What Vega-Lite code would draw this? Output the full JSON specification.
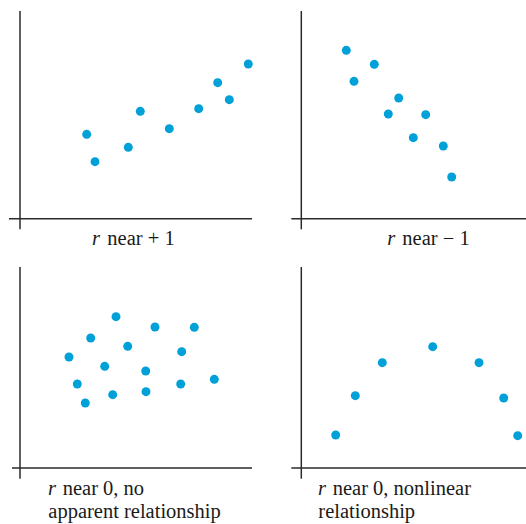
{
  "$schema": "https://vega.github.io/schema/vega-lite/v6.json",
  "padding": 0,
  "background": "white",
  "config": {"view": {"stroke": null}, "text": {"font": "Liberation Serif", "fontSize": 20.5, "color": "#1a1a1a", "align": "left", "baseline": "alphabetic"}},
  "datasets": {
    "axes": [
      {"panel": 1, "x": 0, "y": -0.53, "x2": 0, "y2": 10.385},
      {"panel": 1, "x": -0.55, "y": 0, "x2": 11.6, "y2": 0},
      {"panel": 2, "x": 0, "y": -0.53, "x2": 0, "y2": 10.385},
      {"panel": 2, "x": -0.5, "y": 0, "x2": 11.235, "y2": 0},
      {"panel": 3, "x": 0, "y": -0.535, "x2": 0, "y2": 10.05},
      {"panel": 3, "x": -0.4, "y": 0, "x2": 11.6, "y2": 0},
      {"panel": 4, "x": 0, "y": -0.535, "x2": 0, "y2": 10.05},
      {"panel": 4, "x": -0.5, "y": 0, "x2": 11.235, "y2": 0}
    ],
    "points": [
      {"panel": 1, "x": 3.335, "y": 4.22},
      {"panel": 1, "x": 3.75, "y": 2.85},
      {"panel": 1, "x": 5.415, "y": 3.57},
      {"panel": 1, "x": 6.015, "y": 5.37},
      {"panel": 1, "x": 7.465, "y": 4.5},
      {"panel": 1, "x": 8.935, "y": 5.5},
      {"panel": 1, "x": 9.885, "y": 6.8},
      {"panel": 1, "x": 10.465, "y": 5.95},
      {"panel": 1, "x": 11.415, "y": 7.735},
      {"panel": 2, "x": 2.25, "y": 8.42},
      {"panel": 2, "x": 2.635, "y": 6.87},
      {"panel": 2, "x": 3.65, "y": 7.72},
      {"panel": 2, "x": 4.87, "y": 6.035},
      {"panel": 2, "x": 4.35, "y": 5.235},
      {"panel": 2, "x": 6.22, "y": 5.2},
      {"panel": 2, "x": 5.6, "y": 4.05},
      {"panel": 2, "x": 7.1, "y": 3.635},
      {"panel": 2, "x": 7.52, "y": 2.085},
      {"panel": 3, "x": 2.45, "y": 5.55},
      {"panel": 3, "x": 3.535, "y": 6.5},
      {"panel": 3, "x": 4.8, "y": 7.565},
      {"panel": 3, "x": 2.865, "y": 4.2},
      {"panel": 3, "x": 3.265, "y": 3.25},
      {"panel": 3, "x": 4.235, "y": 5.085},
      {"panel": 3, "x": 5.385, "y": 6.085},
      {"panel": 3, "x": 4.635, "y": 3.665},
      {"panel": 3, "x": 6.75, "y": 7.05},
      {"panel": 3, "x": 6.285, "y": 4.85},
      {"panel": 3, "x": 6.3, "y": 3.815},
      {"panel": 3, "x": 8.715, "y": 7.035},
      {"panel": 3, "x": 8.085, "y": 5.815},
      {"panel": 3, "x": 8.035, "y": 4.2},
      {"panel": 3, "x": 9.715, "y": 4.435},
      {"panel": 4, "x": 1.72, "y": 1.65},
      {"panel": 4, "x": 2.7, "y": 3.615},
      {"panel": 4, "x": 4.05, "y": 5.265},
      {"panel": 4, "x": 6.57, "y": 6.065},
      {"panel": 4, "x": 8.885, "y": 5.265},
      {"panel": 4, "x": 10.12, "y": 3.5},
      {"panel": 4, "x": 10.82, "y": 1.615}
    ],
    "labels": [
      {"panel": 1, "x": 3.6, "y": -1.315, "text": "r", "style": "italic"},
      {"panel": 1, "x": 4.365, "y": -1.315, "text": "near + 1", "style": "normal"},
      {"panel": 2, "x": 4.3, "y": -1.315, "text": "r", "style": "italic"},
      {"panel": 2, "x": 5.05, "y": -1.315, "text": "near − 1", "style": "normal"},
      {"panel": 3, "x": 1.4, "y": -1.35, "text": "r", "style": "italic"},
      {"panel": 3, "x": 2.135, "y": -1.35, "text": "near 0, no", "style": "normal"},
      {"panel": 3, "x": 1.415, "y": -2.52, "text": "apparent relationship", "style": "normal"},
      {"panel": 4, "x": 0.84, "y": -1.35, "text": "r", "style": "italic"},
      {"panel": 4, "x": 1.57, "y": -1.35, "text": "near 0, nonlinear", "style": "normal"},
      {"panel": 4, "x": 0.85, "y": -2.52, "text": "relationship", "style": "normal"}
    ]
  },
  "vconcat": [
    {
      "hconcat": [
        {
          "width": 263, "height": 262,
          "encoding": {
            "x": {"field": "x", "type": "quantitative", "scale": {"domain": [-1, 12.15], "nice": false, "zero": false}, "axis": null},
            "y": {"field": "y", "type": "quantitative", "scale": {"domain": [-2.165, 10.935], "nice": false, "zero": false}, "axis": null}
          },
          "layer": [
            {"data": {"name": "axes"}, "transform": [{"filter": "datum.panel == 1"}], "mark": {"type": "rule", "color": "#2a2a2a", "strokeWidth": 1.5}, "encoding": {"x2": {"field": "x2"}, "y2": {"field": "y2"}}},
            {"data": {"name": "points"}, "transform": [{"filter": "datum.panel == 1"}], "mark": {"type": "circle", "color": "#00a0d8", "opacity": 1, "size": 80}},
            {"data": {"name": "labels"}, "transform": [{"filter": "datum.panel == 1 && datum.style == 'italic'"}], "mark": {"type": "text", "fontStyle": "italic"}, "encoding": {"text": {"field": "text"}}},
            {"data": {"name": "labels"}, "transform": [{"filter": "datum.panel == 1 && datum.style == 'normal'"}], "mark": {"type": "text"}, "encoding": {"text": {"field": "text"}}}
          ]
        },
        {
          "width": 263, "height": 262,
          "encoding": {
            "x": {"field": "x", "type": "quantitative", "scale": {"domain": [-1.915, 11.235], "nice": false, "zero": false}, "axis": null},
            "y": {"field": "y", "type": "quantitative", "scale": {"domain": [-2.165, 10.935], "nice": false, "zero": false}, "axis": null}
          },
          "layer": [
            {"data": {"name": "axes"}, "transform": [{"filter": "datum.panel == 2"}], "mark": {"type": "rule", "color": "#2a2a2a", "strokeWidth": 1.5}, "encoding": {"x2": {"field": "x2"}, "y2": {"field": "y2"}}},
            {"data": {"name": "points"}, "transform": [{"filter": "datum.panel == 2"}], "mark": {"type": "circle", "color": "#00a0d8", "opacity": 1, "size": 80}},
            {"data": {"name": "labels"}, "transform": [{"filter": "datum.panel == 2 && datum.style == 'italic'"}], "mark": {"type": "text", "fontStyle": "italic"}, "encoding": {"text": {"field": "text"}}},
            {"data": {"name": "labels"}, "transform": [{"filter": "datum.panel == 2 && datum.style == 'normal'"}], "mark": {"type": "text"}, "encoding": {"text": {"field": "text"}}}
          ]
        }
      ],
      "spacing": 0
    },
    {
      "hconcat": [
        {
          "width": 263, "height": 262,
          "encoding": {
            "x": {"field": "x", "type": "quantitative", "scale": {"domain": [-1, 12.15], "nice": false, "zero": false}, "axis": null},
            "y": {"field": "y", "type": "quantitative", "scale": {"domain": [-2.8, 10.3], "nice": false, "zero": false}, "axis": null}
          },
          "layer": [
            {"data": {"name": "axes"}, "transform": [{"filter": "datum.panel == 3"}], "mark": {"type": "rule", "color": "#2a2a2a", "strokeWidth": 1.5}, "encoding": {"x2": {"field": "x2"}, "y2": {"field": "y2"}}},
            {"data": {"name": "points"}, "transform": [{"filter": "datum.panel == 3"}], "mark": {"type": "circle", "color": "#00a0d8", "opacity": 1, "size": 80}},
            {"data": {"name": "labels"}, "transform": [{"filter": "datum.panel == 3 && datum.style == 'italic'"}], "mark": {"type": "text", "fontStyle": "italic"}, "encoding": {"text": {"field": "text"}}},
            {"data": {"name": "labels"}, "transform": [{"filter": "datum.panel == 3 && datum.style == 'normal'"}], "mark": {"type": "text"}, "encoding": {"text": {"field": "text"}}}
          ]
        },
        {
          "width": 263, "height": 262,
          "encoding": {
            "x": {"field": "x", "type": "quantitative", "scale": {"domain": [-1.915, 11.235], "nice": false, "zero": false}, "axis": null},
            "y": {"field": "y", "type": "quantitative", "scale": {"domain": [-2.8, 10.3], "nice": false, "zero": false}, "axis": null}
          },
          "layer": [
            {"data": {"name": "axes"}, "transform": [{"filter": "datum.panel == 4"}], "mark": {"type": "rule", "color": "#2a2a2a", "strokeWidth": 1.5}, "encoding": {"x2": {"field": "x2"}, "y2": {"field": "y2"}}},
            {"data": {"name": "points"}, "transform": [{"filter": "datum.panel == 4"}], "mark": {"type": "circle", "color": "#00a0d8", "opacity": 1, "size": 80}},
            {"data": {"name": "labels"}, "transform": [{"filter": "datum.panel == 4 && datum.style == 'italic'"}], "mark": {"type": "text", "fontStyle": "italic"}, "encoding": {"text": {"field": "text"}}},
            {"data": {"name": "labels"}, "transform": [{"filter": "datum.panel == 4 && datum.style == 'normal'"}], "mark": {"type": "text"}, "encoding": {"text": {"field": "text"}}}
          ]
        }
      ],
      "spacing": 0
    }
  ],
  "spacing": 0
}
